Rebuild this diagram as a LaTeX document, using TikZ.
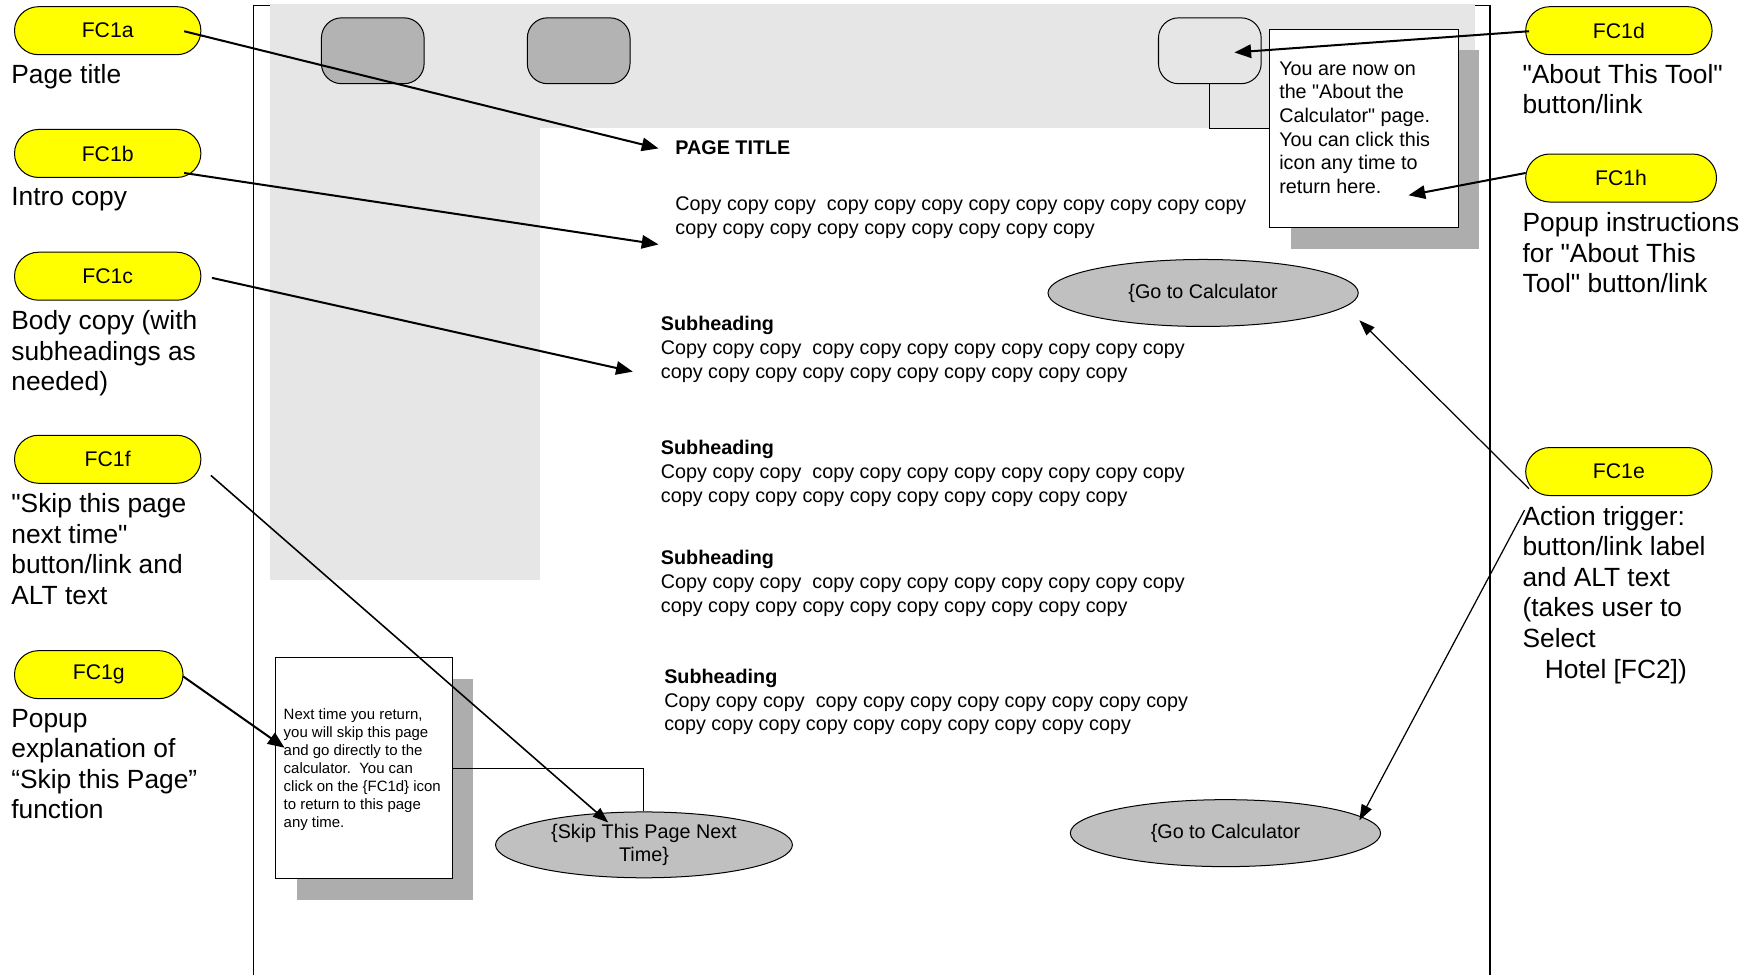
\documentclass[tikz,border=0pt]{standalone}
\usepackage{fontspec}
\setmainfont{Liberation Sans}
\usetikzlibrary{arrows.meta,shapes.geometric}
\definecolor{bandgray}{HTML}{E6E6E6}
\definecolor{buttongray}{HTML}{B3B3B3}
\definecolor{ovalgray}{HTML}{C0C0C0}
\definecolor{shadegray}{HTML}{ADADAD}
\definecolor{tagyellow}{HTML}{FFFF00}
\newcommand{\sz}[2]{\fontsize{#1}{#2}\selectfont}
% stacked lines whose baseline is that of the first line
\newcommand{\txtlines}[1]{\begin{tabular}[t]{@{}l@{}}#1\end{tabular}}
\newcommand{\q}{\textquotedbl}
\begin{document}
\frenchspacing
\begin{tikzpicture}[x=1pt,y=-1pt,
  tag/.style={draw=black,line width=0.9,fill=tagyellow,rounded corners=21.5,
    minimum width=167,minimum height=43,inner sep=0,font=\sz{19}{22}},
  tagnote/.style={anchor=base west,inner sep=0,font=\sz{23.6}{27.4}},
  copytext/.style={anchor=base west,inner sep=0,font=\sz{17.7}{21.2}},
  smalltext/.style={anchor=base west,inner sep=0,font=\sz{13.4}{16}},
  navbtn/.style={draw=black,line width=0.9,rounded corners=18,minimum width=92,
    minimum height=59,inner sep=0},
  popbox/.style={draw=black,line width=0.9,fill=white,anchor=north west,inner sep=0},
  shade/.style={fill=shadegray},
  oval/.style={ellipse,draw=black,line width=0.9,fill=ovalgray,inner sep=0,
    font=\sz{17.7}{21}},
  frame/.style={draw=black,line width=1.1},
  callarrow/.style={-{Triangle[length=15pt,width=12pt]},line width=1.8},
  thinarrow/.style={-{Triangle[length=14pt,width=10pt]},line width=1.1}]

% canvas
\useasboundingbox (0,0) rectangle (1568,874);

% page frame
\draw[frame] (227,874) -- (227,5) -- (1335,5) -- (1335,874);

% header band and left navigation column (the band covers the frame's top edge)
\fill[bandgray] (242,3.5) rectangle (1322,115);
\fill[bandgray] (242,115) rectangle (484,520);

% header buttons
\node[navbtn,fill=buttongray] (btn1) at (334,45.5) {};
\node[navbtn,fill=buttongray] (btn2) at (518.5,45.5) {};
\node[navbtn,fill=bandgray] (btn3) at (1084,45.5) {};

% "About" popup with its shadow
\fill[shade] (1157,45) rectangle (1325,223);
\node[popbox,minimum width=169,minimum height=177] (popA) at (1137,26) {};
\draw[line width=0.9] (btn3.south) |- (popA.west);
\node[copytext] (popAtext) at (1146,67.5)
  {\txtlines{You are now on\\the \q About the\\Calculator\q{} page.\\You can click this\\icon any time to\\return here.}};

% "Skip" popup with its shadow
\fill[shade] (266,608) rectangle (424,806);
\node[popbox,minimum width=159,minimum height=198] (popB) at (246,589) {};
\node[smalltext] (popBtext) at (254,645)
  {\txtlines{Next time you return,\\you will skip this page\\and go directly to the\\calculator.\ \ You can\\click on the \{FC1d\} icon\\to return to this page\\any time.}};

% action buttons
\node[oval,minimum width=266,minimum height=59,align=center] (skip) at (577,757)
  {\{Skip This Page Next\\Time\}};
\draw[line width=0.9] (popB.east) -| (skip.north);
\node[oval,minimum width=278,minimum height=60] (goA) at (1078,262.5) {\{Go to Calculator};
\node[oval,minimum width=278,minimum height=60] (goB) at (1098,746.5) {\{Go to Calculator};

% page content
\node[copytext,font=\sz{17.7}{21.2}\bfseries] (title) at (605,138.5) {PAGE TITLE};
\node[copytext] (intro) at (605,188.5)
  {\txtlines{Copy copy copy\ \ copy copy copy copy copy copy copy copy copy\\copy copy copy copy copy copy copy copy copy}};
\node[copytext] (secA) at (592,296.5)
  {\txtlines{\textbf{Subheading}\\Copy copy copy\ \ copy copy copy copy copy copy copy copy\\copy copy copy copy copy copy copy copy copy copy}};
\node[copytext] (secB) at (592,407.5)
  {\txtlines{\textbf{Subheading}\\Copy copy copy\ \ copy copy copy copy copy copy copy copy\\copy copy copy copy copy copy copy copy copy copy}};
\node[copytext] (secC) at (592,506)
  {\txtlines{\textbf{Subheading}\\Copy copy copy\ \ copy copy copy copy copy copy copy copy\\copy copy copy copy copy copy copy copy copy copy}};
\node[copytext] (secD) at (595,612.5)
  {\txtlines{\textbf{Subheading}\\Copy copy copy\ \ copy copy copy copy copy copy copy copy\\copy copy copy copy copy copy copy copy copy copy}};

% annotation tags, left side
\node[tag] (fca) at (96.5,27.5) {FC1a};
\node[tag] (fcb) at (96.5,137.5) {FC1b};
\node[tag] (fcc) at (96.5,247.5) {FC1c};
\node[tag] (fcf) at (96.5,411.5) {FC1f};
\node[tag,minimum width=151] (fcg) at (88.5,604.5) {FC1g};
\node[tagnote] (nta) at (10,74.5) {Page title};
\node[tagnote] (ntb) at (10,184.5) {Intro copy};
\node[tagnote] (ntc) at (10,295.2) {\txtlines{Body copy (with\\subheadings as\\needed)}};
\node[tagnote] (ntf) at (10,459.5) {\txtlines{\q Skip this page\\next time\q\\button/link and\\ALT text}};
\node[tagnote] (ntg) at (10,651.5) {\txtlines{Popup\\explanation of\\“Skip this Page”\\function}};

% annotation tags, right side
\node[tag] (fcd) at (1450.5,27.5) {FC1d};
\node[tag,minimum width=171] (fch) at (1452.5,159.5) {FC1h};
\node[tag] (fce) at (1450.5,422.5) {FC1e};
\node[tagnote] (ntd) at (1364,74.5) {\txtlines{\q About This Tool\q\\button/link}};
\node[tagnote] (nth) at (1364,207.5) {\txtlines{Popup instructions\\for \q About This\\Tool\q{} button/link}};
\node[tagnote] (nte) at (1364,470.5)
  {\txtlines{Action trigger:\\button/link label\\and ALT text\\(takes user to\\Select\\\hspace*{20pt}Hotel [FC2])}};

% arrow ends
\coordinate (sa) at (165,28);   \coordinate (ea) at (590,133);
\coordinate (sb) at (165,155);  \coordinate (eb) at (590,219);
\coordinate (sc) at (190,249);  \coordinate (ec) at (567,333);
\coordinate (sf) at (189,426);  \coordinate (ef) at (545,737);
\coordinate (sg) at (164,606);  \coordinate (eg) at (255,670);
\coordinate (sd) at (1370,28);  \coordinate (ed) at (1106,47);
\coordinate (sh) at (1367,155); \coordinate (eh) at (1262,175);
\coordinate (se1) at (1370,438); \coordinate (ee1) at (1218,287);
\coordinate (se2) at (1366,457); \coordinate (ee2) at (1218,735);

\draw[callarrow] (sa) -- (ea);
\draw[callarrow] (sb) -- (eb);
\draw[callarrow] (sc) -- (ec);
\draw[thinarrow,line width=1.4] (sf) -- (ef);
\draw[callarrow] (sg) -- (eg);
\draw[callarrow] (sd) -- (ed);
\draw[callarrow] (sh) -- (eh);
\draw[thinarrow] (se1) -- (ee1);
\draw[thinarrow] (se2) -- (ee2);
\end{tikzpicture}
\end{document}
